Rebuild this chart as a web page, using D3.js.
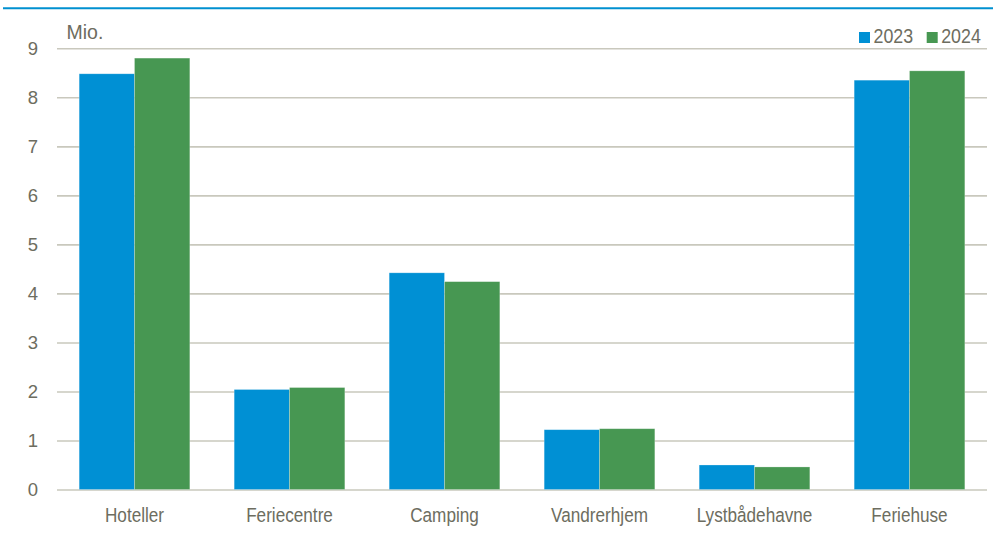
<!DOCTYPE html>
<html>
<head>
<meta charset="utf-8">
<script src="https://cdn.jsdelivr.net/npm/d3@7"></script>
<style>
  html, body { margin: 0; padding: 0; background: #fff; }
  svg { display: block; font-family: "Liberation Sans", Arial, sans-serif; }
</style>
</head>
<body>
<svg id="chart" width="995" height="538"></svg>
<script>
const categories = ["Hoteller", "Feriecentre", "Camping", "Vandrerhjem", "Lystbådehavne", "Feriehuse"]
const years = ["2023", "2024"]
const values2023 = [8.48, 2.04, 4.42, 1.22, 0.50, 8.35]
const values2024 = [8.80, 2.08, 4.24, 1.24, 0.46, 8.54]
const yTicks = [0, 1, 2, 3, 4, 5, 6, 7, 8, 9]

const colors = {"2023": "#0090d4", "2024": "#479752"}
const textColor = "#6d6d60"
const gridColor = "#c9c8bd"

const svg = d3.select("#chart")
const margin = {left: 57, right: 8, top: 48.3, bottom: 48.5}
const width = 995, height = 538

const data = categories.map((c, i) => ({cat: c, "2023": values2023[i], "2024": values2024[i]}))

const x0 = d3.scaleBand().domain(categories)
  .range([margin.left, width - margin.right])
  .paddingInner(0.286).paddingOuter(0.143)
const x1 = d3.scaleBand().domain(years).range([0, x0.bandwidth()])
const y = d3.scaleLinear().domain([0, 9]).range([height - margin.bottom, margin.top])

// the text face in the source is a narrow one; squeeze the regular face to match
const narrow = (sx) => (sel) => sel.attr("transform", `scale(${sx},1)`)

// top rule (header band of the source page)
svg.append("line")
  .attr("x1", 3).attr("x2", 993).attr("y1", 8.3).attr("y2", 8.3)
  .attr("stroke", "#0090d0").attr("stroke-width", 2)

// gridlines + y labels
const yAxis = svg.append("g")
  .attr("transform", `translate(${margin.left},0)`)
  .call(d3.axisLeft(y).tickValues(yTicks).tickSize(-(width - margin.right - margin.left)).tickPadding(19))
yAxis.select(".domain").remove()
yAxis.selectAll(".tick line").attr("stroke", gridColor).attr("stroke-width", 1.6)
yAxis.selectAll(".tick text")
  .attr("fill", textColor).attr("font-size", 18.5)
  .attr("font-family", null)

// bars
svg.append("g")
  .selectAll("g")
  .data(data)
  .join("g")
  .attr("transform", (d) => `translate(${x0(d.cat)},0)`)
  .selectAll("rect")
  .data((d) => years.map((k) => ({key: k, value: d[k]})))
  .join("rect")
  .attr("x", (d) => x1(d.key))
  .attr("width", x1.bandwidth())
  .attr("y", (d) => y(d.value))
  .attr("height", (d) => y(0) - y(d.value))
  .attr("fill", (d) => colors[d.key])
  .attr("stroke", "#ffffff")
  .attr("stroke-opacity", 0.35)
  .attr("stroke-width", 0.7)

// category labels
const xAxis = svg.append("g")
  .attr("transform", `translate(0,${y(0)})`)
  .call(d3.axisBottom(x0).tickSize(0).tickPadding(19))
xAxis.select(".domain").remove()
xAxis.selectAll(".tick text")
  .attr("fill", textColor).attr("font-size", 19.5)
  .attr("font-family", null)
  .call(narrow(0.88))

// unit label
svg.append("text")
  .attr("transform", "translate(66.5,39.3)")
  .append("tspan")
  .attr("fill", textColor).attr("font-size", 19.5)
  .text("Mio.")
  .call(narrow(0.9))

// legend
const legendX = [859, 926.7]
const legend = svg.append("g")
  .selectAll("g")
  .data(years)
  .join("g")
  .attr("transform", (d, i) => `translate(${legendX[i]},32)`)
legend.append("rect")
  .attr("width", 11).attr("height", 11)
  .attr("fill", (d) => colors[d])
legend.append("g")
  .attr("transform", "translate(14.5,11.3)")
  .append("text")
  .attr("fill", textColor).attr("font-size", 21)
  .text((d) => d)
  .call(narrow(0.85))
</script>
</body>
</html>
